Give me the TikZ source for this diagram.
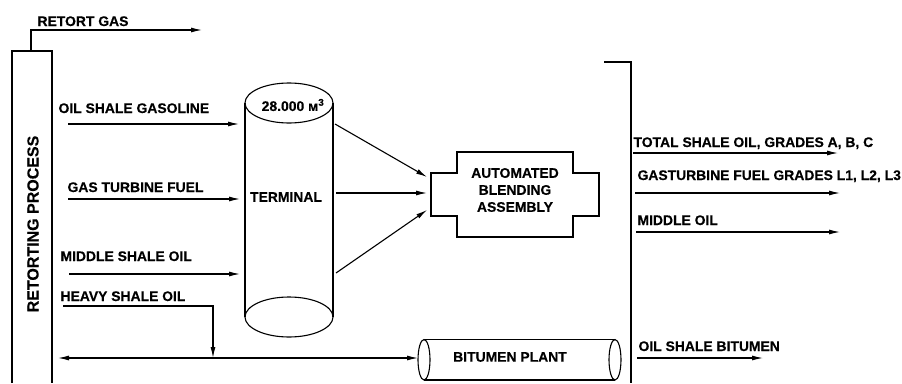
\documentclass[tikz,border=0pt]{standalone}
\usepackage{fontspec}
\setmainfont{Liberation Sans}[BoldFeatures={FakeBold=0.3}]
\usetikzlibrary{arrows.meta}
\begin{document}
\begin{tikzpicture}[x=1pt,y=-1pt,
  line width=1.1pt,
  flow/.style={-{Latex[length=11pt,width=5pt]}},
  lbl/.style={anchor=base west,inner sep=0pt,font=\fontsize{13.9}{16}\selectfont\bfseries},
  clbl/.style={inner sep=0pt,font=\fontsize{13.9}{16}\selectfont\bfseries,align=center}]
\useasboundingbox (0,0) rectangle (902,383);
% retorting process column
\draw (12,383) -- (12,51) -- (52,51) -- (52,383);
\node[clbl,rotate=90,font=\fontsize{16}{18}\selectfont\bfseries] (retort) at (33,224) {RETORTING PROCESS};
\coordinate (gasout) at (31,51);
\coordinate (gasend) at (202,30);
\draw[flow] (gasout) |- (gasend);
\node[lbl] (tgas) at (37,26) {RETORT GAS};
% inputs
\node[lbl] (tosg) at (58,113) {OIL SHALE GASOLINE};
\node[lbl] (tgtf) at (67,192) {GAS TURBINE FUEL};
\node[lbl] (tmso) at (60,261) {MIDDLE SHALE OIL};
\node[lbl] (thso) at (60,301) {HEAVY SHALE OIL};
\coordinate (i1s) at (68,124); \coordinate (i1e) at (239,124);
\coordinate (i2s) at (68,199); \coordinate (i2e) at (240,199);
\coordinate (i3s) at (69,274); \coordinate (i3e) at (240,274);
\draw[flow] (i1s) -- (i1e);
\draw[flow] (i2s) -- (i2e);
\draw[flow] (i3s) -- (i3e);
% terminal cylinder
\draw (245,103) -- (245,317);
\draw (333,103) -- (333,317);
\draw (289,103) ellipse [x radius=44, y radius=20];
\draw (289,317) ellipse [x radius=44, y radius=20];
\node[clbl] (vol) at (293,105) {28.000 м\textsuperscript{3}};
\node[clbl] (term) at (286,197) {TERMINAL};
% blending assembly
\draw (457,152) -- (573,152) -- (573,173) -- (599,173) -- (599,216) -- (573,216)
  -- (573,237) -- (457,237) -- (457,216) -- (431,216) -- (431,173) -- (457,173) -- cycle;
\node[clbl,font=\fontsize{13.9}{17}\selectfont\bfseries] (blend) at (515,190) {AUTOMATED\\BLENDING\\ASSEMBLY};
\coordinate (t1) at (335,124); \coordinate (b1) at (427,177);
\coordinate (t2) at (336,193); \coordinate (b2) at (427,193);
\coordinate (t3) at (336,273); \coordinate (b3) at (427,210);
\draw[flow] (t1) -- (b1);
\draw[flow] (t2) -- (b2);
\draw[flow] (t3) -- (b3);
% heavy shale oil and bitumen plant
\coordinate (h1) at (63,306);
\coordinate (h2) at (213,358);
\draw[flow] (h1) -| (h2);
\coordinate (bl) at (58,358);
\coordinate (br) at (418,358);
\draw[{Latex[length=11pt,width=5pt]}-{Latex[length=11pt,width=5pt]}] (bl) -- (br);
\draw (424,339.5) -- (615,339.5);
\draw (424,380) -- (615,380);
\draw[fill=white] (424,359.75) ellipse [x radius=6, y radius=20.25];
\draw (615,359.75) ellipse [x radius=6, y radius=20.25];
\node[clbl] (bplant) at (510,357) {BITUMEN PLANT};
% product bracket
\draw (604,62) -- (631,62) -- (631,383);
\node[lbl] (ptso) at (633,147) {TOTAL SHALE OIL, GRADES A, B, C};
\node[lbl] (pgtf) at (637,180) {GASTURBINE FUEL GRADES L1, L2, L3};
\node[lbl] (pmo) at (637,225) {MIDDLE OIL};
\node[lbl] (posb) at (638,351) {OIL SHALE BITUMEN};
\coordinate (o1s) at (633,153); \coordinate (o1e) at (838,153);
\coordinate (o2s) at (635,193); \coordinate (o2e) at (840,193);
\coordinate (o3s) at (636,232); \coordinate (o3e) at (840,232);
\coordinate (o4s) at (637,358); \coordinate (o4e) at (763,358);
\draw[flow] (o1s) -- (o1e);
\draw[flow] (o2s) -- (o2e);
\draw[flow] (o3s) -- (o3e);
\draw[flow] (o4s) -- (o4e);
\end{tikzpicture}
\end{document}
